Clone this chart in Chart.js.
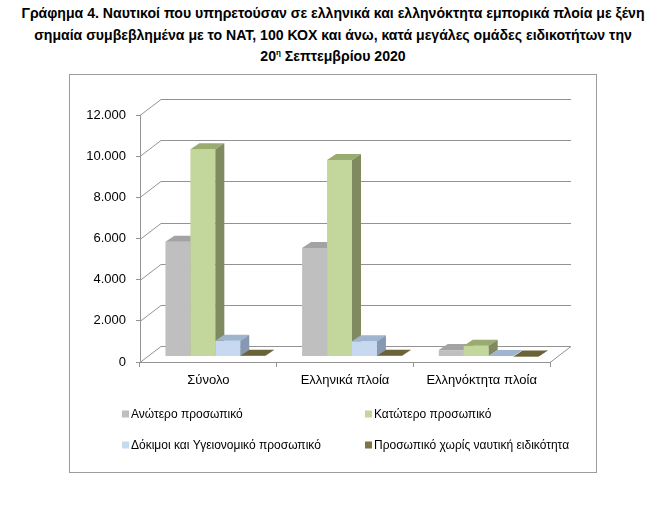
<!DOCTYPE html>
<html>
<head>
<meta charset="utf-8">
<script src="https://cdn.jsdelivr.net/npm/chart.js@4.4.1/dist/chart.umd.min.js"></script>
<style>
  body { margin: 0; width: 666px; height: 510px; background: #fff; position: relative; overflow: hidden; }
  #title {
    position: absolute; left: 0; top: 3px; width: 666px; text-align: center;
    font-family: "Liberation Sans", Arial, sans-serif; font-weight: bold; font-size: 14.1px;
    line-height: 21.5px; color: #000;
  }
  #title sup { font-size: 8px; vertical-align: 6px; line-height: 0; }
  #frame {
    position: absolute; left: 69px; top: 74px; width: 528px; height: 399px;
    box-sizing: border-box; border: 1px solid #9c9c9c;
  }
  #chart { display: block; }
</style>
</head>
<body>
<div id="title">
  Γράφημα 4. Ναυτικοί που υπηρετούσαν σε ελληνικά και ελληνόκτητα εμπορικά πλοία με ξένη<br>
  σημαία συμβεβλημένα με το ΝΑΤ, 100 ΚΟΧ και άνω, κατά μεγάλες ομάδες ειδικοτήτων την<br>
  20<sup>η</sup> Σεπτεμβρίου 2020
</div>
<div id="frame"><canvas id="chart" width="526" height="397"></canvas></div>
<script>
// Data
const categories = ['Σύνολο', 'Ελληνικά πλοία', 'Ελληνόκτητα πλοία'];
const seriesLabels = [
    'Ανώτερο προσωπικό',
    'Κατώτερο προσωπικό',
    'Δόκιμοι και Υγειονομικό προσωπικό',
    'Προσωπικό χωρίς ναυτική ειδικότητα'
];
const anoteroValues = [5580, 5270, 310];
const katoteroValues = [10070, 9550, 520];
const dokimoiValues = [760, 740, 20];
const xorisValues = [40, 35, 5];
const yMax = 12000;
const yStep = 2000;

// Colours: front face, top face, side face
const faceColors = [
    ['#bfbfbf', '#a3a3a3', '#8e8e8e'],
    ['#c3d69b', '#9aab72', '#7f8b5e'],
    ['#c6d9f1', '#9fb4cf', '#8799b2'],
    ['#7f7348', '#6c6237', '#5e552f']
];

// Depth of the back wall and of the bars (oblique projection)
const wallDepth = { x: 21, y: -16 };
const barShift = { x: 7, y: -5.5 };
const barDepth = { x: 9, y: -6 };
const lineColor = '#939393';

function formatThousands(v) {
    return String(v).replace(/\B(?=(\d{3})+(?!\d))/g, '.');
}

const threeD = {
    id: 'threeD',
    beforeDatasetsDraw(chart) {
        const ctx = chart.ctx;
        const yScale = chart.scales.y;
        const area = chart.chartArea;
        ctx.save();
        ctx.strokeStyle = lineColor;
        ctx.lineWidth = 1;
        yScale.ticks.forEach((t) => {
            const py = Math.round(yScale.getPixelForValue(t.value)) + 0.5;
            ctx.beginPath();
            ctx.moveTo(area.left, py);
            ctx.lineTo(area.left + wallDepth.x, py + wallDepth.y);
            ctx.lineTo(area.right + wallDepth.x, py + wallDepth.y);
            ctx.stroke();
        });
        // right edge of the floor
        const y0 = Math.round(yScale.getPixelForValue(0)) + 0.5;
        ctx.beginPath();
        ctx.moveTo(area.right, y0);
        ctx.lineTo(area.right + wallDepth.x, y0 + wallDepth.y);
        ctx.stroke();
        ctx.restore();
    },
    afterDatasetsDraw(chart) {
        const ctx = chart.ctx;
        ctx.save();
        categories.forEach((c, i) => {
            chart.data.datasets.forEach((ds, j) => {
                const bar = chart.getDatasetMeta(j).data[i];
                const p = bar.getProps(['x', 'y', 'base', 'width'], true);
                const left = p.x - p.width / 2 + barShift.x;
                const right = left + p.width;
                const top = p.y + barShift.y;
                const base = p.base + barShift.y;
                const col = faceColors[j];
                // front
                ctx.fillStyle = col[0];
                ctx.fillRect(left, top, p.width, base - top);
                // top
                ctx.fillStyle = col[1];
                ctx.beginPath();
                ctx.moveTo(left, top);
                ctx.lineTo(left + barDepth.x, top + barDepth.y);
                ctx.lineTo(right + barDepth.x, top + barDepth.y);
                ctx.lineTo(right, top);
                ctx.closePath();
                ctx.fill();
                // side
                ctx.fillStyle = col[2];
                ctx.beginPath();
                ctx.moveTo(right, top);
                ctx.lineTo(right + barDepth.x, top + barDepth.y);
                ctx.lineTo(right + barDepth.x, base + barDepth.y);
                ctx.lineTo(right, base);
                ctx.closePath();
                ctx.fill();
            });
        });
        ctx.restore();
    },
    afterDraw(chart) {
        // two-column legend under the axis
        const ctx = chart.ctx;
        const pos = [[52, 339], [295, 339], [52, 370], [295, 370]];
        ctx.save();
        ctx.font = '12px "Liberation Sans", Arial, sans-serif';
        ctx.textBaseline = 'middle';
        seriesLabels.forEach((lbl, j) => {
            const [lx, ly] = pos[j];
            ctx.fillStyle = faceColors[j][0];
            ctx.fillRect(lx, ly - 3.5, 7, 7);
            ctx.fillStyle = '#000';
            ctx.fillText(lbl, lx + 9, ly + 0.5);
        });
        ctx.restore();
    }
};

const seriesValues = [anoteroValues, katoteroValues, dokimoiValues, xorisValues];

new Chart(document.getElementById('chart'), {
    type: 'bar',
    data: {
        labels: categories,
        datasets: seriesValues.map((vals, j) => ({
            label: seriesLabels[j],
            data: vals,
            backgroundColor: 'rgba(0,0,0,0)',
            borderWidth: 0,
            categoryPercentage: 0.73,
            barPercentage: 1
        }))
    },
    options: {
        responsive: false,
        animation: false,
        layout: { padding: { left: 0, top: 40, right: 46, bottom: 80 } },
        plugins: {
            legend: { display: false },
            tooltip: { enabled: false }
        },
        scales: {
            x: {
                afterFit(scale) { scale.height = 30; },
                grid: { drawOnChartArea: false, tickLength: 5, color: lineColor },
                border: { color: lineColor },
                ticks: {
                    padding: 6,
                    color: '#000',
                    font: { family: '"Liberation Sans", Arial, sans-serif', size: 13 }
                }
            },
            y: {
                min: 0,
                max: yMax,
                afterFit(scale) { scale.width = 70; },
                grid: { drawOnChartArea: false, tickLength: 4, color: lineColor },
                border: { color: lineColor },
                ticks: {
                    stepSize: yStep,
                    padding: 10,
                    color: '#000',
                    font: { family: '"Liberation Sans", Arial, sans-serif', size: 13 },
                    callback: (v) => formatThousands(v)
                }
            }
        }
    },
    plugins: [threeD]
});
</script>
</body>
</html>
